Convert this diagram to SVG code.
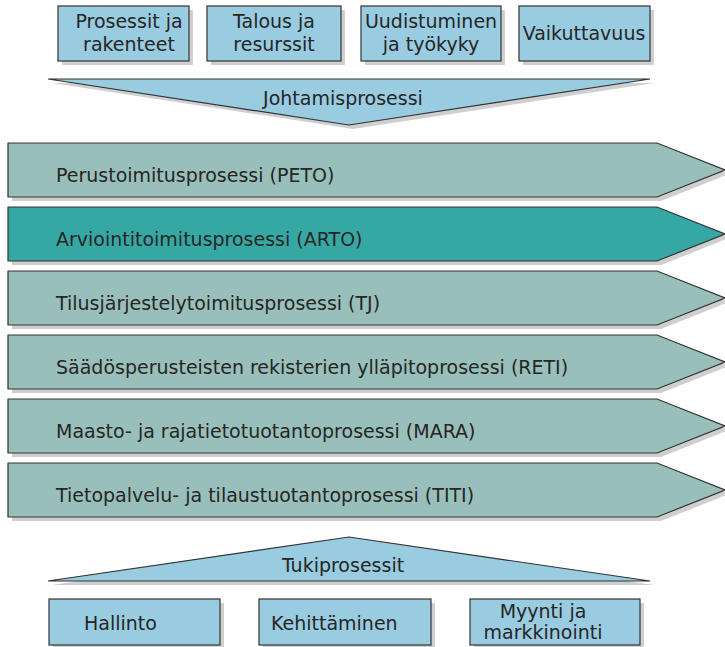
<svg xmlns="http://www.w3.org/2000/svg" width="725" height="647" viewBox="0 0 725 647">
<style>
.box{fill:#99CCE0;stroke:#333;stroke-width:1.2}
.sh{fill:#cfcfcf}
.chev{fill:#99BFBA;stroke:#333;stroke-width:1.2}
.chevd{fill:#36A8A4;stroke:#333;stroke-width:1.2}
text{font-family:"DejaVu Sans",Verdana,sans-serif;font-size:19px;fill:#262626}
.c{text-anchor:middle}
</style>
<rect width="725" height="647" fill="#fff"/>
<g id="top-boxes">
<g id="n-prosessit"><rect class="sh" x="62" y="10" width="131" height="55"/><rect class="box" x="58" y="6" width="131" height="55"/><text class="c" x="129" y="28">Prosessit ja</text><text class="c" x="129" y="51">rakenteet</text></g>
<g id="n-talous"><rect class="sh" x="211" y="10" width="134" height="55"/><rect class="box" x="207" y="6" width="134" height="55"/><text class="c" x="274" y="28">Talous ja</text><text class="c" x="274" y="51">resurssit</text></g>
<g id="n-uudistuminen"><rect class="sh" x="365" y="10" width="140" height="55"/><rect class="box" x="361" y="6" width="140" height="55"/><text class="c" x="431" y="28">Uudistuminen</text><text class="c" x="431" y="51">ja työkyky</text></g>
<g id="n-vaikuttavuus"><rect class="sh" x="523" y="10" width="131" height="55"/><rect class="box" x="519" y="6" width="131" height="55"/><text class="c" x="584" y="40">Vaikuttavuus</text></g>
</g>
<g id="n-johtamis"><polygon class="sh" points="52,83 654,83 353,129"/><polygon class="box" points="48,79 650,79 349,125"/><text class="c" x="343" y="105">Johtamisprosessi</text></g>
<g id="chevrons">
<g id="n-peto"><polygon class="sh" points="12,147 661,147 729,174 661,201 12,201"/><polygon class="chev" points="8,143 657,143 725,170 657,197 8,197"/><text x="56" y="182">Perustoimitusprosessi (PETO)</text></g>
<g id="n-arto"><polygon class="sh" points="12,211 661,211 729,238 661,265 12,265"/><polygon class="chevd" points="8,207 657,207 725,234 657,261 8,261"/><text x="56" y="246">Arviointitoimitusprosessi (ARTO)</text></g>
<g id="n-tj"><polygon class="sh" points="12,275 661,275 729,302 661,329 12,329"/><polygon class="chev" points="8,271 657,271 725,298 657,325 8,325"/><text x="56" y="310">Tilusjärjestelytoimitusprosessi (TJ)</text></g>
<g id="n-reti"><polygon class="sh" points="12,339 661,339 729,366 661,393 12,393"/><polygon class="chev" points="8,335 657,335 725,362 657,389 8,389"/><text x="56" y="374">Säädösperusteisten rekisterien ylläpitoprosessi (RETI)</text></g>
<g id="n-mara"><polygon class="sh" points="12,403 661,403 729,430 661,457 12,457"/><polygon class="chev" points="8,399 657,399 725,426 657,453 8,453"/><text x="56" y="438">Maasto- ja rajatietotuotantoprosessi (MARA)</text></g>
<g id="n-titi"><polygon class="sh" points="12,467 661,467 729,494 661,521 12,521"/><polygon class="chev" points="8,463 657,463 725,490 657,517 8,517"/><text x="56" y="502">Tietopalvelu- ja tilaustuotantoprosessi (TITI)</text></g>
</g>
<g id="n-tuki"><polygon class="sh" points="52,585 353,541 654,585"/><polygon class="box" points="48,581 349,537 650,581"/><text class="c" x="343" y="572">Tukiprosessit</text></g>
<g id="bottom-boxes">
<g id="n-hallinto"><rect class="sh" x="53" y="603" width="171" height="46"/><rect class="box" x="49" y="599" width="171" height="46"/><text x="84" y="630">Hallinto</text></g>
<g id="n-kehittaminen"><rect class="sh" x="263" y="603" width="172" height="46"/><rect class="box" x="259" y="599" width="172" height="46"/><text x="271" y="630">Kehittäminen</text></g>
<g id="n-myynti"><rect class="sh" x="474" y="603" width="170" height="46"/><rect class="box" x="470" y="599" width="170" height="46"/><text class="c" x="543" y="618">Myynti ja</text><text class="c" x="543" y="639">markkinointi</text></g>
</g>
<g id="connectors"/>
</svg>
